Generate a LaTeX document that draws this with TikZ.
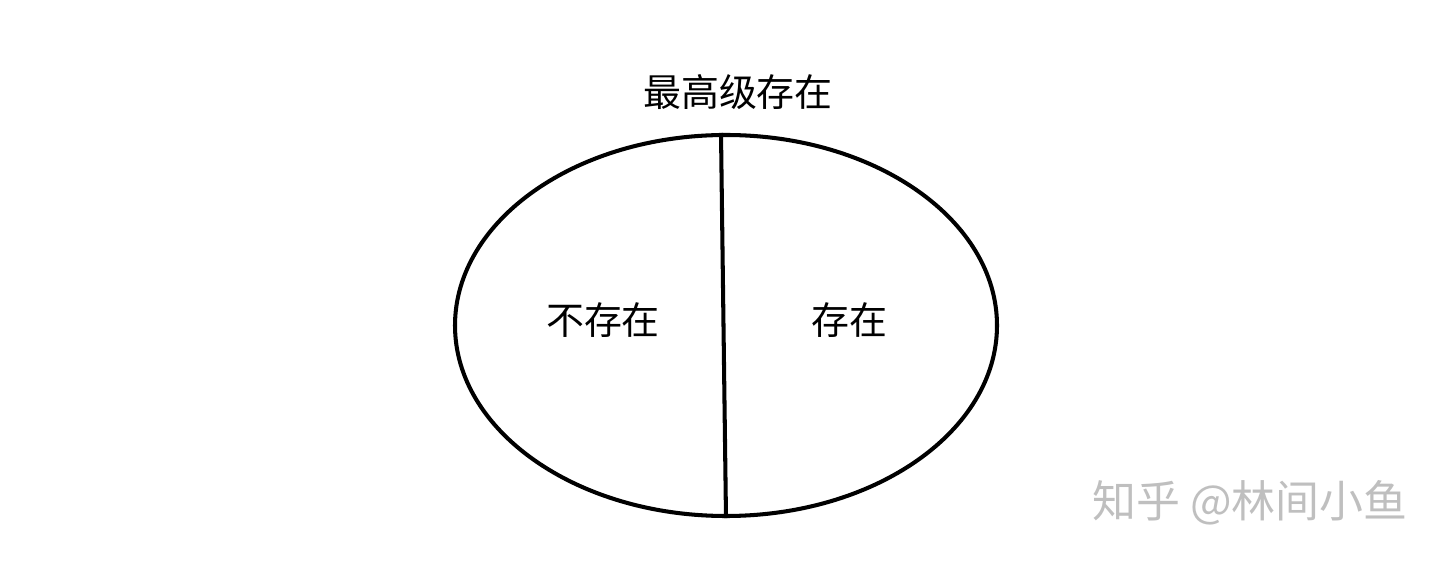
\documentclass[tikz,border=0pt]{standalone}
\usepackage{fontspec}
\setmainfont{Noto Sans CJK SC}
\usetikzlibrary{shapes.geometric}

\tikzset{
    words/.style={font=\fontsize{21.6}{26}\selectfont, inner sep=0pt},
    stamp/.style={font=\fontsize{25}{30}\selectfont, text=black!25, inner sep=0pt}
}

\begin{document}
\begin{tikzpicture}
        \useasboundingbox (0,0) rectangle (28.86,-11.24);
        % Nodes
        \node[draw, ellipse, line width=2.3pt, minimum width=10.84cm, minimum height=7.62cm, inner sep=0pt] (oval) at (14.52,-6.51) {};
        \node[words] (top) at (14.76,-1.84) {最高级存在};
        \node[words] (none) at (12.06,-6.40) {不存在};
        \node[words] (exist) at (16.98,-6.40) {存在};
        \node[stamp] (wm) at (25.00,-10.06) {知乎 @林间小鱼};

        % Divider
        \coordinate (cut) at ([xshift=-0.1cm]oval.north);
        \draw[line width=2.3pt] (cut) -- (oval.south);
\end{tikzpicture}
\end{document}
